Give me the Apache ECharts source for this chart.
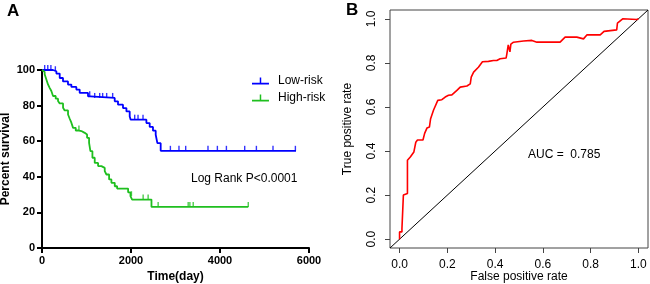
<!DOCTYPE html>
<html>
<head>
<meta charset="utf-8">
<script src="https://cdn.jsdelivr.net/npm/echarts@6/dist/echarts.min.js"></script>
<style>
  html, body { margin: 0; padding: 0; background: #fff; }
  #main { width: 650px; height: 284px; }
</style>
</head>
<body>
<div id="main"></div>
<script>
var chart = echarts.init(document.getElementById('main'));

// Panel A: Kaplan-Meier, step points (time in days, % survival)
var lowTime = [0, 247, 323, 398, 472, 584, 660, 772, 847, 1034, 1087, 1634, 1708, 1820, 1897, 1971, 1993, 2346, 2420, 2494, 2555, 2593, 2667, 5708];
var lowSurv = [100, 99.3, 98.0, 95.5, 93.6, 91.8, 90.5, 89.0, 87.1, 85.2, 84.3, 82.4, 80.5, 78.6, 76.7, 73.9, 72.1, 70.2, 68.0, 65.9, 63.6, 58.9, 54.6, 54.6];
var lowCensor = [60, 130, 200, 300, 1072, 1184, 1296, 1363, 1453, 1588, 2083, 2158, 2270, 2885, 3078, 3229, 3730, 3941, 4144, 4555, 4818, 5191, 5694];

var highTime = [0, 22, 60, 98, 135, 172, 210, 248, 308, 360, 398, 473, 510, 585, 623, 660, 698, 758, 833, 885, 960, 1013, 1058, 1088, 1133, 1185, 1260, 1335, 1410, 1448, 1508, 1560, 1635, 1688, 1935, 1988, 2025, 2460, 4635];
var highSurv = [100, 98.9, 97.6, 94.7, 91.9, 90.0, 88.2, 85.4, 83.9, 82.6, 81.2, 78.8, 77.3, 75.0, 72.6, 70.4, 67.5, 66.0, 65.7, 64.7, 63.8, 61.9, 59.1, 54.4, 50.7, 47.8, 46.0, 45.0, 43.2, 41.3, 38.5, 36.6, 34.7, 33.4, 31.3, 29.1, 27.2, 23.1, 23.1];
var highCensor = [830, 2010, 2273, 2385, 2610, 3285, 3323, 3398, 4635];

// Panel B: ROC curve
var fpr = [0, 0, 0.010, 0.010, 0.016, 0.016, 0.033, 0.033, 0.045, 0.060, 0.068, 0.075, 0.098, 0.105, 0.115, 0.125, 0.130, 0.142, 0.150, 0.160, 0.177, 0.191, 0.205, 0.219, 0.240, 0.254, 0.282, 0.296, 0.300, 0.310, 0.330, 0.347, 0.372, 0.393, 0.407, 0.421, 0.446, 0.449, 0.455, 0.462, 0.466, 0.477, 0.519, 0.554, 0.575, 0.672, 0.693, 0.742, 0.770, 0.784, 0.840, 0.856, 0.909, 0.912, 0.934, 0.993, 1.0];
var tpr = [0, 0.033, 0.033, 0.048, 0.048, 0.200, 0.207, 0.358, 0.373, 0.396, 0.440, 0.450, 0.450, 0.480, 0.505, 0.509, 0.547, 0.585, 0.590, 0.630, 0.633, 0.645, 0.653, 0.655, 0.675, 0.690, 0.695, 0.705, 0.735, 0.758, 0.780, 0.805, 0.807, 0.811, 0.811, 0.819, 0.822, 0.840, 0.882, 0.850, 0.885, 0.894, 0.899, 0.902, 0.894, 0.894, 0.917, 0.917, 0.909, 0.927, 0.927, 0.943, 0.950, 0.980, 1.0, 0.997, 1.0];
var rocTicks = [0, 0.2, 0.4, 0.6, 0.8, 1.0];

function pairs(xs, ys) {
    return xs.map(function (x, i) { return [x, ys[i]]; });
}
function survAt(times, surv, t) {
    var v = surv[0];
    for (var i = 0; i < times.length; i++) {
        if (times[i] <= t) v = surv[i];
    }
    return v;
}
function censorPts(ct, times, surv) {
    return ct.map(function (t) { return [t, survAt(times, surv, t)]; });
}

var FONT = 'Liberation Sans';
var BLUE = '#0000ff';
var GREEN = '#1fbf1f';
var tickIcon = 'path://M0,6 L16,6 L16,7.6 L0,7.6 Z M7.3,1 L8.7,1 L8.7,7 L7.3,7 Z';

var option = {
    animation: false,
    textStyle: { fontFamily: FONT },
    grid: [
        { left: 42, top: 70, width: 267, height: 178, outerBoundsMode: 'none' },
        { left: 390, top: 10, width: 258, height: 238, outerBoundsMode: 'none',
          show: true, borderColor: '#444', borderWidth: 1 }
    ],
    legend: {
        orient: 'vertical',
        left: 252,
        top: 75,
        padding: 0,
        itemWidth: 17,
        itemHeight: 7,
        itemGap: 5,
        icon: tickIcon,
        data: ['Low-risk', 'High-risk'],
        textStyle: { fontFamily: FONT, fontSize: 12, color: '#000', padding: [0, 0, 0, 4] }
    },
    xAxis: [{
        gridIndex: 0,
        type: 'value',
        min: 0, max: 6000, interval: 2000,
        name: 'Time(day)',
        nameLocation: 'middle',
        nameGap: 22,
        nameTextStyle: { fontFamily: FONT, fontSize: 12, fontWeight: 'bold', color: '#000' },
        axisLine: { onZero: false, lineStyle: { color: '#000', width: 2 } },
        axisTick: { length: 5, lineStyle: { color: '#000', width: 2 } },
        axisLabel: {
            margin: 7, fontFamily: FONT, fontSize: 11, fontWeight: 'bold', color: '#000',
            formatter: function (v) { return String(v); }
        },
        splitLine: { show: false }
    }, {
        gridIndex: 1,
        type: 'value',
        min: -0.04, max: 1.04,
        name: 'False positive rate',
        nameLocation: 'middle',
        nameGap: 23,
        nameMoveOverlap: false,
        nameTextStyle: { fontFamily: FONT, fontSize: 12, color: '#000' },
        axisLine: { show: false, onZero: false },
        axisTick: { customValues: rocTicks, length: 5, lineStyle: { color: '#444' } },
        axisLabel: {
            customValues: rocTicks, margin: 11, fontFamily: FONT, fontSize: 12, color: '#000',
            formatter: function (v) { return v.toFixed(1); }
        },
        splitLine: { show: false }
    }],
    yAxis: [{
        gridIndex: 0,
        type: 'value',
        min: 0, max: 100, interval: 20,
        name: 'Percent survival',
        nameLocation: 'middle',
        nameGap: 30,
        nameTextStyle: { fontFamily: FONT, fontSize: 12, fontWeight: 'bold', color: '#000' },
        axisLine: { show: true, onZero: false, lineStyle: { color: '#000', width: 2 } },
        axisTick: { show: true, length: 5, lineStyle: { color: '#000', width: 2 } },
        axisLabel: { margin: 7, fontFamily: FONT, fontSize: 11, fontWeight: 'bold', color: '#000' },
        splitLine: { show: false }
    }, {
        gridIndex: 1,
        type: 'value',
        min: -0.04, max: 1.04,
        name: 'True positive rate',
        nameLocation: 'middle',
        nameGap: 36,
        nameTextStyle: { fontFamily: FONT, fontSize: 12, color: '#000' },
        axisLine: { show: false, onZero: false },
        axisTick: { show: true, customValues: rocTicks, length: 5, lineStyle: { color: '#444' } },
        axisLabel: {
            customValues: rocTicks, rotate: 90, margin: 12, fontFamily: FONT, fontSize: 12, color: '#000',
            formatter: function (v) { return v.toFixed(1); }
        },
        splitLine: { show: false }
    }],
    graphic: [
        { type: 'text', left: 7, top: 3, style: { text: 'A', font: 'bold 17px ' + FONT, fill: '#000' } },
        { type: 'text', left: 346, top: 2, style: { text: 'B', font: 'bold 17px ' + FONT, fill: '#000' } },
        { type: 'text', left: 191, top: 173, style: { text: 'Log Rank P<0.0001', font: '12px ' + FONT, fill: '#000' } },
        { type: 'text', left: 528, top: 149, style: { text: 'AUC =  0.785', font: '12px ' + FONT, fill: '#000' } }
    ],
    series: [{
        name: 'Low-risk',
        type: 'line',
        xAxisIndex: 0, yAxisIndex: 0,
        step: 'end',
        showSymbol: false,
        color: BLUE,
        lineStyle: { color: BLUE, width: 1.8 },
        data: pairs(lowTime, lowSurv)
    }, {
        name: 'High-risk',
        type: 'line',
        xAxisIndex: 0, yAxisIndex: 0,
        step: 'end',
        showSymbol: false,
        color: GREEN,
        lineStyle: { color: GREEN, width: 1.8 },
        data: pairs(highTime, highSurv)
    }, {
        name: 'Low-risk censor',
        type: 'scatter',
        xAxisIndex: 0, yAxisIndex: 0,
        symbol: 'rect',
        symbolSize: [1.4, 5],
        symbolOffset: [0, -2.5],
        itemStyle: { color: BLUE },
        data: censorPts(lowCensor, lowTime, lowSurv)
    }, {
        name: 'High-risk censor',
        type: 'scatter',
        xAxisIndex: 0, yAxisIndex: 0,
        symbol: 'rect',
        symbolSize: [1.4, 5],
        symbolOffset: [0, -2.5],
        itemStyle: { color: GREEN },
        data: censorPts(highCensor, highTime, highSurv)
    }, {
        name: 'Diagonal',
        type: 'line',
        xAxisIndex: 1, yAxisIndex: 1,
        showSymbol: false,
        lineStyle: { color: '#000', width: 1 },
        data: [[-0.04, -0.04], [1.04, 1.04]]
    }, {
        name: 'ROC',
        type: 'line',
        xAxisIndex: 1, yAxisIndex: 1,
        showSymbol: false,
        lineStyle: { color: '#ff0000', width: 1.6 },
        data: pairs(fpr, tpr)
    }]
};

chart.setOption(option);
</script>
</body>
</html>
